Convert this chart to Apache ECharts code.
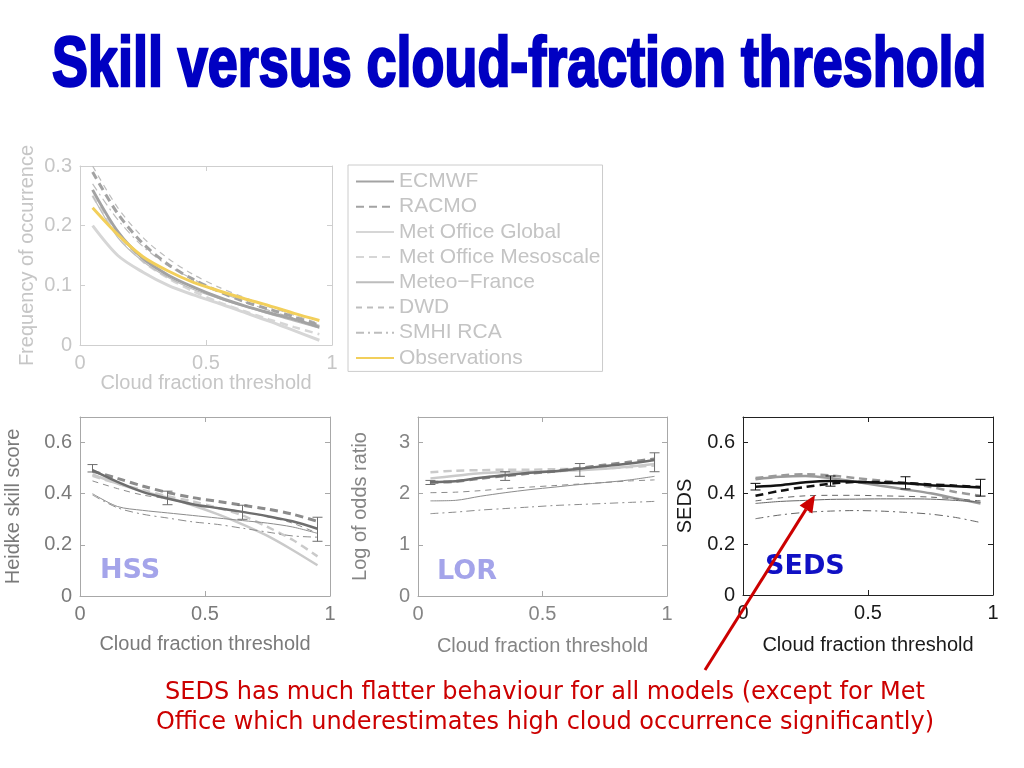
<!DOCTYPE html>
<html>
<head>
<meta charset="utf-8">
<script src="https://cdn.jsdelivr.net/npm/echarts@6/dist/echarts.min.js"></script>
<style>html,body{margin:0;padding:0;background:#fff;}#c{width:1024px;height:768px;}</style>
</head>
<body>
<div id="c"></div>
<script>
// ---------- data ----------
const thresholds = [0.05, 0.15, 0.25, 0.35, 0.45, 0.55, 0.65, 0.75, 0.85, 0.95];
const modelNames = ['ECMWF', 'RACMO', 'Met Office Global', 'Met Office Mesoscale', 'Meteo\u2212France', 'DWD', 'SMHI RCA', 'Observations'];
const xTickLabels = ['0', '0.5', '1'];

// (a) Frequency of occurrence
const freqECMWF = [0.260, 0.190, 0.145, 0.117, 0.097, 0.080, 0.066, 0.054, 0.043, 0.030];
const freqRACMO = [0.290, 0.220, 0.170, 0.135, 0.110, 0.090, 0.073, 0.060, 0.047, 0.033];
const freqMOG   = [0.200, 0.150, 0.122, 0.100, 0.084, 0.070, 0.055, 0.040, 0.024, 0.008];
const freqMOM   = [0.250, 0.185, 0.140, 0.112, 0.090, 0.072, 0.057, 0.043, 0.030, 0.018];
const freqMF    = [0.250, 0.180, 0.140, 0.113, 0.093, 0.078, 0.065, 0.052, 0.040, 0.028];
const freqDWD   = [0.300, 0.230, 0.180, 0.145, 0.118, 0.097, 0.080, 0.064, 0.050, 0.036];
const freqSMHI  = [0.270, 0.210, 0.165, 0.133, 0.110, 0.090, 0.073, 0.058, 0.045, 0.033];
const freqObs   = [0.230, 0.185, 0.148, 0.124, 0.105, 0.091, 0.078, 0.066, 0.053, 0.041];

// HSS
const hssECMWF = [0.492, 0.446, 0.407, 0.381, 0.359, 0.344, 0.329, 0.312, 0.292, 0.263];
const hssRACMO = [0.488, 0.460, 0.430, 0.405, 0.385, 0.370, 0.355, 0.340, 0.320, 0.292];
const hssMOG   = [0.475, 0.440, 0.410, 0.385, 0.355, 0.320, 0.280, 0.235, 0.180, 0.120];
const hssMOM   = [0.470, 0.440, 0.415, 0.390, 0.370, 0.345, 0.315, 0.270, 0.220, 0.155];
const hssMF    = [0.400, 0.350, 0.335, 0.325, 0.315, 0.305, 0.295, 0.285, 0.270, 0.245];
const hssDWD   = [0.450, 0.420, 0.395, 0.380, 0.360, 0.345, 0.330, 0.310, 0.285, 0.245];
const hssSMHI  = [0.395, 0.345, 0.320, 0.305, 0.290, 0.280, 0.265, 0.250, 0.235, 0.230];
const hssErrX   = [0.05, 0.35, 0.65, 0.95];
const hssErrLow = [0.485, 0.357, 0.300, 0.214];
const hssErrHigh= [0.514, 0.410, 0.355, 0.308];

// LOR
const lorECMWF = [2.23, 2.245, 2.31, 2.36, 2.41, 2.44, 2.49, 2.54, 2.59, 2.66];
const lorRACMO = [2.22, 2.24, 2.30, 2.35, 2.40, 2.44, 2.50, 2.56, 2.62, 2.68];
const lorMOG   = [2.30, 2.35, 2.40, 2.42, 2.43, 2.44, 2.46, 2.49, 2.53, 2.58];
const lorMOM   = [2.42, 2.45, 2.46, 2.47, 2.47, 2.48, 2.49, 2.50, 2.52, 2.55];
const lorMF    = [1.86, 1.87, 1.95, 2.02, 2.08, 2.13, 2.18, 2.22, 2.27, 2.34];
const lorDWD   = [2.02, 2.03, 2.06, 2.10, 2.13, 2.16, 2.19, 2.22, 2.25, 2.27];
const lorSMHI  = [1.61, 1.64, 1.68, 1.71, 1.74, 1.77, 1.79, 1.81, 1.83, 1.85];
const lorErrX   = [0.05, 0.35, 0.65, 0.95];
const lorErrLow = [2.18, 2.26, 2.34, 2.43];
const lorErrHigh= [2.26, 2.43, 2.59, 2.80];

// SEDS
const sedsECMWF = [0.426, 0.432, 0.443, 0.448, 0.445, 0.441, 0.439, 0.432, 0.428, 0.423];
const sedsRACMO = [0.390, 0.410, 0.425, 0.438, 0.444, 0.444, 0.440, 0.435, 0.430, 0.425];
const sedsMOG   = [0.455, 0.465, 0.468, 0.460, 0.445, 0.430, 0.415, 0.400, 0.380, 0.360];
const sedsMOM   = [0.460, 0.470, 0.475, 0.470, 0.460, 0.450, 0.440, 0.425, 0.405, 0.390];
const sedsMF    = [0.360, 0.368, 0.372, 0.376, 0.377, 0.378, 0.378, 0.377, 0.372, 0.365];
const sedsDWD   = [0.370, 0.382, 0.390, 0.392, 0.392, 0.390, 0.388, 0.385, 0.378, 0.370];
const sedsSMHI  = [0.300, 0.315, 0.325, 0.330, 0.332, 0.330, 0.325, 0.318, 0.305, 0.285];
const sedsErrX   = [0.05, 0.35, 0.65, 0.95];
const sedsErrLow = [0.413, 0.428, 0.417, 0.389];
const sedsErrHigh= [0.439, 0.468, 0.465, 0.455];

// ---------- styling / layout ----------
const FONT = 'Liberation Sans, Arial, sans-serif';
const grids = [
  {left: 80,  top: 166, width: 252, height: 179},
  {left: 80,  top: 417, width: 250, height: 179},
  {left: 418, top: 417, width: 249, height: 179},
  {left: 743, top: 417, width: 250, height: 178}
];
const panelAxis = [
  {line: '#cfcfcf', text: '#c6c6c6', yName: 'Frequency of occurrence', yMax: 0.3, yInt: 0.1, yGap: 43, xGap: 25},
  {line: '#a8a8a8', text: '#7a7a7a', yName: 'Heidke skill score', yMax: 0.7, yInt: 0.2, yGap: 57, xGap: 38},
  {line: '#a8a8a8', text: '#858585', yName: 'Log of odds ratio', yMax: 3.5, yInt: 1, yGap: 48, xGap: 40},
  {line: '#222222', text: '#1a1a1a', yName: 'SEDS', yMax: 0.7, yInt: 0.2, yGap: 48, xGap: 40}
];
const DASH = [8, 5], THIN_DASH = [6, 5], DASHDOT = [8, 4, 2, 4];
function styles(p) {
  if (p === 0) return [
    {c: '#a3a3a3', w: 3, t: 'solid'}, {c: '#a3a3a3', w: 3, t: DASH}, {c: '#d6d6d6', w: 3, t: 'solid'},
    {c: '#d6d6d6', w: 2.5, t: DASH}, {c: '#bdbdbd', w: 1.2, t: 'solid'}, {c: '#bdbdbd', w: 1.2, t: THIN_DASH},
    {c: '#bdbdbd', w: 1.2, t: DASHDOT}, {c: '#f2cf5b', w: 3, t: 'solid'}];
  if (p === 3) return [
    {c: '#111111', w: 2.5, t: 'solid'}, {c: '#111111', w: 2.5, t: DASH}, {c: '#9a9a9a', w: 2.5, t: 'solid'},
    {c: '#9a9a9a', w: 2.5, t: DASH}, {c: '#666666', w: 1, t: 'solid'}, {c: '#666666', w: 1, t: THIN_DASH},
    {c: '#666666', w: 1, t: DASHDOT}];
  return [
    {c: '#6e6e6e', w: 2.5, t: 'solid'}, {c: '#8c8c8c', w: 3, t: DASH}, {c: '#cacaca', w: 2.5, t: 'solid'},
    {c: '#cacaca', w: 2.5, t: DASH}, {c: '#8c8c8c', w: 1, t: 'solid'}, {c: '#8c8c8c', w: 1, t: THIN_DASH},
    {c: '#8c8c8c', w: 1, t: DASHDOT}];
}
const panelData = [
  [freqECMWF, freqRACMO, freqMOG, freqMOM, freqMF, freqDWD, freqSMHI, freqObs],
  [hssECMWF, hssRACMO, hssMOG, hssMOM, hssMF, hssDWD, hssSMHI],
  [lorECMWF, lorRACMO, lorMOG, lorMOM, lorMF, lorDWD, lorSMHI],
  [sedsECMWF, sedsRACMO, sedsMOG, sedsMOM, sedsMF, sedsDWD, sedsSMHI]
];
const panelErr = [null,
  {x: hssErrX, lo: hssErrLow, hi: hssErrHigh, c: '#6e6e6e'},
  {x: lorErrX, lo: lorErrLow, hi: lorErrHigh, c: '#6e6e6e'},
  {x: sedsErrX, lo: sedsErrLow, hi: sedsErrHigh, c: '#111111'}];
const drawOrder = [2, 3, 4, 5, 6, 1, 0, 7];

const xAxes = [], yAxes = [], series = [];
grids.forEach((g, p) => {
  const a = panelAxis[p];
  const mk = () => ({
    gridIndex: p, type: 'value', min: 0,
    axisLine: {show: true, onZero: false, lineStyle: {color: a.line, width: 1}},
    axisTick: {show: true, inside: true, length: 5, lineStyle: {color: a.line}},
    splitLine: {show: false}
  });
  xAxes.push(Object.assign(mk(), {
    position: 'bottom', max: 1, interval: 0.5,
    axisLabel: {color: a.text, fontSize: 20, fontFamily: FONT, margin: 8,
      formatter: v => xTickLabels[Math.round(v * 2)]},
    name: 'Cloud fraction threshold', nameLocation: 'middle', nameGap: a.xGap,
    nameTextStyle: {color: a.text, fontSize: 20, fontFamily: FONT}
  }));
  xAxes.push(Object.assign(mk(), {position: 'top', max: 1, interval: 0.5, axisLabel: {show: false}}));
  yAxes.push(Object.assign(mk(), {
    position: 'left', max: a.yMax, interval: a.yInt,
    axisLabel: {color: a.text, fontSize: 20, fontFamily: FONT, margin: 8, showMaxLabel: a.yMax === 0.3,
      formatter: v => String(+v.toFixed(2))},
    name: a.yName, nameLocation: 'middle', nameGap: a.yGap,
    nameTextStyle: {color: a.text, fontSize: 20, fontFamily: FONT}
  }));
  yAxes.push(Object.assign(mk(), {position: 'right', max: a.yMax, interval: a.yInt, axisLabel: {show: false}}));

  const st = styles(p);
  drawOrder.forEach((m, k) => {
    const d = panelData[p][m];
    if (!d) return;
    series.push({
      type: 'line', name: modelNames[m], xAxisIndex: 2 * p, yAxisIndex: 2 * p,
      data: thresholds.map((x, i) => [x, d[i]]),
      symbol: 'none', showSymbol: false, smooth: 0.3, z: 2 + k,
      lineStyle: {color: st[m].c, width: st[m].w, type: st[m].t},
      itemStyle: {color: st[m].c},
      emphasis: {disabled: true}, silent: true
    });
  });
  const e = panelErr[p];
  if (e) {
    series.push({
      type: 'custom', name: 'errbar' + p, xAxisIndex: 2 * p, yAxisIndex: 2 * p, z: 20, silent: true,
      data: e.x.map((x, i) => [x, e.lo[i], e.hi[i]]),
      renderItem: function (params, api) {
        const lo = api.coord([api.value(0), api.value(1)]);
        const hi = api.coord([api.value(0), api.value(2)]);
        const hw = 5;
        const s = {stroke: e.c, lineWidth: 1};
        return {type: 'group', children: [
          {type: 'line', shape: {x1: lo[0], y1: lo[1], x2: hi[0], y2: hi[1]}, style: s},
          {type: 'line', shape: {x1: lo[0] - hw, y1: lo[1], x2: lo[0] + hw, y2: lo[1]}, style: s},
          {type: 'line', shape: {x1: hi[0] - hw, y1: hi[1], x2: hi[0] + hw, y2: hi[1]}, style: s}
        ]};
      }
    });
  }
});

// arrow geometry (annotation)
const tip = [815, 495], tail = [705, 670];
const dx = tip[0] - tail[0], dy = tip[1] - tail[1], L = Math.hypot(dx, dy);
const ux = dx / L, uy = dy / L, px = -uy, py = ux;
const hl = 17, hw = 7.5;
const base = [tip[0] - hl * ux, tip[1] - hl * uy];

const option = {
  animation: false,
  backgroundColor: '#ffffff',
  grid: grids.map(g => Object.assign({containLabel: false}, g)),
  xAxis: xAxes,
  yAxis: yAxes,
  legend: {
    show: true, orient: 'vertical', left: 348, top: 165,
    data: modelNames, selectedMode: false,
    itemWidth: 38, itemHeight: 20, itemGap: 4.2, padding: [6, 2, 3, 7],
    itemStyle: {opacity: 0, color: 'rgba(0,0,0,0)', borderWidth: 0},
    borderColor: '#cccccc', borderWidth: 1,
    textStyle: {color: '#c4c4c4', fontSize: 21, fontFamily: FONT}
  },
  series: series,
  graphic: [
    {type: 'text', x: 52, y: 67, scaleX: 0.77, scaleY: 1,
      style: {text: 'Skill versus cloud-fraction threshold', fill: '#0000c2',
        font: 'bold 70px "Liberation Sans", Arial, sans-serif', textAlign: 'left', textVerticalAlign: 'middle',
        stroke: '#0000c2', lineWidth: 2.5}},
    {type: 'text', x: 100, y: 571, z: 50,
      style: {text: 'HSS', fill: '#a4a4ea', font: 'bold 27px "DejaVu Sans", sans-serif', textAlign: 'left', textVerticalAlign: 'middle'}},
    {type: 'text', x: 437, y: 572, z: 50,
      style: {text: 'LOR', fill: '#a4a4ea', font: 'bold 27px "DejaVu Sans", sans-serif', textAlign: 'left', textVerticalAlign: 'middle'}},
    {type: 'text', x: 765, y: 567, z: 50,
      style: {text: 'SEDS', fill: '#1010c4', font: 'bold 27px "DejaVu Sans", sans-serif', textAlign: 'left', textVerticalAlign: 'middle'}},
    {type: 'line', z: 60, shape: {x1: tail[0], y1: tail[1], x2: base[0], y2: base[1]},
      style: {stroke: '#cc0000', lineWidth: 3}},
    {type: 'polygon', z: 60, shape: {points: [tip, [base[0] + hw * px, base[1] + hw * py], [base[0] - hw * px, base[1] - hw * py]]},
      style: {fill: '#cc0000'}},
    {type: 'text', x: 545, y: 693, z: 50,
      style: {text: 'SEDS has much flatter behaviour for all models (except for Met', fill: '#cc0000',
        font: '24px "DejaVu Sans", sans-serif', textAlign: 'center', textVerticalAlign: 'middle'}},
    {type: 'text', x: 545, y: 723, z: 50,
      style: {text: 'Office which underestimates high cloud occurrence significantly)', fill: '#cc0000',
        font: '24px "DejaVu Sans", sans-serif', textAlign: 'center', textVerticalAlign: 'middle'}}
  ]
};
const chart = echarts.init(document.getElementById('c'), null, {renderer: 'canvas'});
chart.setOption(option);
</script>
</body>
</html>
